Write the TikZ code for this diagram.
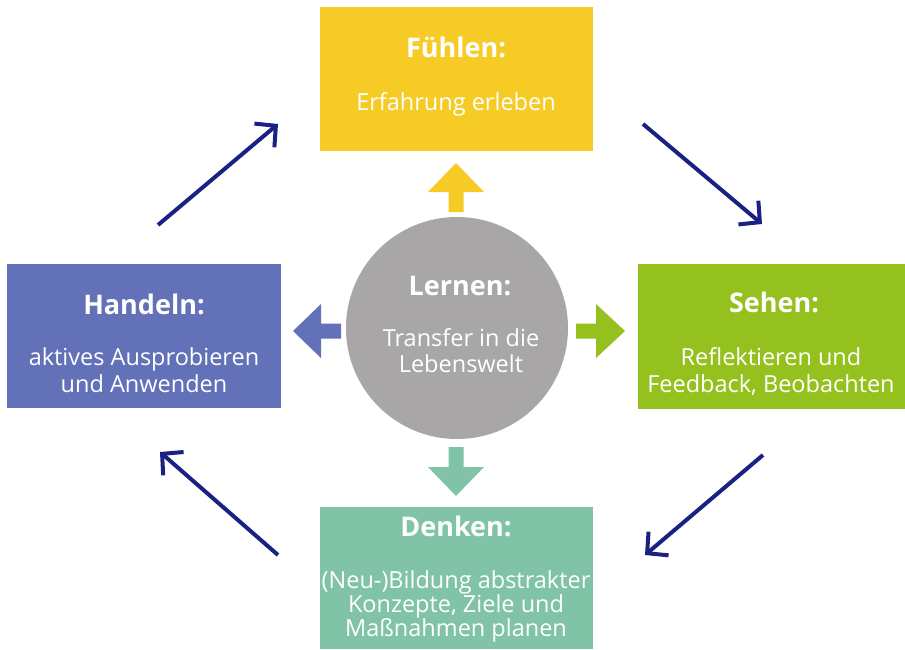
\documentclass[tikz,border=0pt]{standalone}
\usepackage{fontspec}
\setmainfont{Open Sans}
\usetikzlibrary{arrows.meta}

\definecolor{cYellow}{HTML}{F6CB26}
\definecolor{cBlue}{HTML}{6271B8}
\definecolor{cGreen}{HTML}{95C11F}
\definecolor{cTeal}{HTML}{80C3A6}
\definecolor{cGray}{HTML}{A8A6A7}
\definecolor{cNavy}{HTML}{1B2183}

\tikzset{
  box/.style={rectangle, inner sep=0pt, draw=none},
  head/.style={anchor=base, text=white, font=\fontsize{27}{30}\selectfont\bfseries},
  body/.style={anchor=base, text=white, font=\fontsize{23.5}{27}\selectfont},
  cycle/.style={draw=cNavy, line width=4pt,
    -{Straight Barb[length=15pt, width=31pt, line join=miter]}},
}

\begin{document}
\begin{tikzpicture}[x=1pt, y=-1pt]
  \useasboundingbox (0,0) rectangle (905,649);

  % four phase boxes
  \node[box, fill=cYellow, minimum width=273pt, minimum height=144pt] (fuehlen) at (456.5,79) {};
  \node[box, fill=cBlue,   minimum width=274pt, minimum height=144pt] (handeln) at (144,336) {};
  \node[box, fill=cGreen,  minimum width=267pt, minimum height=145pt] (sehen)   at (771.5,336.5) {};
  \node[box, fill=cTeal,   minimum width=273pt, minimum height=142pt] (denken)  at (456.5,578) {};

  % central circle
  \node[circle, fill=cGray, minimum size=222pt, inner sep=0pt] (lernen) at (457,328) {};

  % texts
  \node[head] (tF1) at (456,57) {Fühlen:};
  \node[body] (tF2) at (456,110) {Erfahrung erleben};

  \node[head] (tH1) at (144,314) {Handeln:};
  \node[body] (tH2) at (144,365) {aktives Ausprobieren};
  \node[body] (tH3) at (144,392) {und Anwenden};

  \node[head] (tS1) at (774,312) {Sehen:};
  \node[body] (tS2) at (771,365) {Reflektieren und};
  \node[body] (tS3) at (771,392) {Feedback, Beobachten};

  \node[head] (tL1) at (460,295) {Lernen:};
  \node[body] (tL2) at (461,346) {Transfer in die};
  \node[body] (tL3) at (461,372) {Lebenswelt};

  \node[head] (tD1) at (456,536) {Denken:};
  \node[body] (tD2) at (456,588) {(Neu-)Bildung abstrakter};
  \node[body] (tD3) at (456,612) {Konzepte, Ziele und};
  \node[body] (tD4) at (456,636) {Maßnahmen planen};

  % block arrows from the circle to the boxes
  \fill[cYellow] (448.5,212) -- (463.5,212) -- (463.5,192) -- (484,192)
     -- (456,163) -- (428,192) -- (448.5,192) -- cycle;
  \fill[cTeal] (448.5,447) -- (463.5,447) -- (463.5,467) -- (484,467)
     -- (456,496) -- (428,467) -- (448.5,467) -- cycle;
  \fill[cBlue] (341,323.5) -- (341,338.5) -- (321,338.5) -- (321,358)
     -- (293,331) -- (321,304) -- (321,323.5) -- cycle;
  \fill[cGreen] (576,323.5) -- (576,338.5) -- (596,338.5) -- (596,358)
     -- (625,331) -- (596,304) -- (596,323.5) -- cycle;

  % cycle arrows between the boxes
  \coordinate (a1s) at (158,225);  \coordinate (a1e) at (278,124);
  \coordinate (a2s) at (643,124);  \coordinate (a2e) at (762,224);
  \coordinate (a3s) at (763,455);  \coordinate (a3e) at (645,555);
  \coordinate (a4s) at (278,555);  \coordinate (a4e) at (160,452);
  \draw[cycle] (a1s) -- (a1e);
  \draw[cycle] (a2s) -- (a2e);
  \draw[cycle] (a3s) -- (a3e);
  \draw[cycle] (a4s) -- (a4e);
\end{tikzpicture}
\end{document}
